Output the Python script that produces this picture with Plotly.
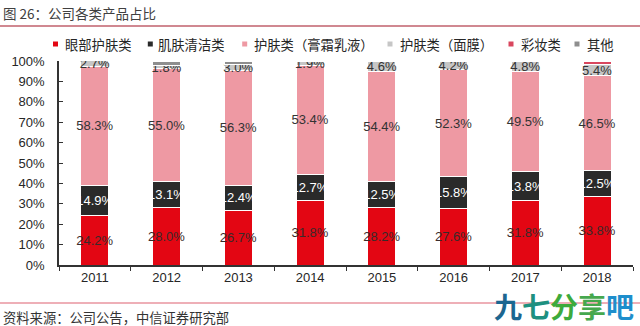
import plotly.graph_objects as go

# Product mix by year (% of revenue)
years = ["2011", "2012", "2013", "2014", "2015", "2016", "2017", "2018"]
eye_care = [24.2, 28.0, 26.7, 31.8, 28.2, 27.6, 31.8, 33.8]
cleansing = [14.9, 13.1, 12.4, 12.7, 12.5, 15.8, 13.8, 12.5]
cream_lotion = [58.3, 55.0, 56.3, 53.4, 54.4, 52.3, 49.5, 46.5]
facial_mask = [2.7, 1.8, 3.0, 1.9, 4.6, 4.2, 4.8, 5.4]
makeup = [0.0, 0.0, 0.0, 0.0, 0.0, 0.0, 0.0, 1.8]
others = [0.0, 2.1, 1.6, 0.2, 0.3, 0.1, 0.1, 0.0]

series_names = ["眼部护肤类", "肌肤清洁类", "护肤类（膏霜乳液）", "护肤类（面膜）", "彩妆类", "其他"]
series_values = [eye_care, cleansing, cream_lotion, facial_mask, makeup, others]
series_colors = ["#E30613", "#2A2A2A", "#EE99A3", "#C6C6C6", "#D9475E", "#8E8E8E"]
label_colors = ["#3A2A2A", "#FFFFFF", "#333333", "#333333", None, None]

W_PX, H_PX = 640, 326
M_L, M_R, M_T, M_B = 59, 7, 61, 61
PLOT_W = W_PX - M_L - M_R
PLOT_H = H_PX - M_T - M_B
BASE_FONT = "Liberation Sans, Arial, Noto Sans CJK SC, sans-serif"
CJK_FONT = "Noto Sans CJK SC, Liberation Sans, sans-serif"


def px_x(px):
    return (px - M_L) / PLOT_W


def px_y(py):
    return (H_PX - M_B - py) / PLOT_H


fig = go.Figure()
for name, vals, color, lcolor in zip(series_names, series_values, series_colors, label_colors):
    texts = [f"{v:.1f}%" for v in vals] if lcolor else None
    fig.add_trace(go.Bar(
        x=years, y=vals, name=name,
        marker=dict(color=color, line=dict(color="#FFFFFF", width=1)),
        text=texts,
        textposition="inside" if lcolor else "none",
        insidetextanchor="middle",
        textangle=0,
        textfont=dict(color=lcolor or "#333333", size=13, family=BASE_FONT),
        showlegend=False,
        hoverinfo="skip",
    ))

# Legend row: small squares with labels
legend_items = [
    (55.5, 63, 0), (150.3, 155.5, 1), (244.7, 251.5, 2),
    (390, 398, 3), (511, 519, 4), (577, 585, 5),
]
shapes = []
annotations = []
LEG_Y = 44
for mx, tx, idx in legend_items:
    shapes.append(dict(
        type="rect", xref="paper", yref="paper",
        x0=px_x(mx - 2.5), x1=px_x(mx + 2.5), y0=px_y(LEG_Y + 2.5), y1=px_y(LEG_Y - 2.5),
        fillcolor=series_colors[idx], line=dict(width=0),
    ))
    annotations.append(dict(
        text=series_names[idx], xref="paper", yref="paper",
        x=px_x(tx), y=px_y(LEG_Y), xanchor="left", yanchor="middle",
        showarrow=False, font=dict(size=13.3, color="#262626", family=CJK_FONT),
    ))

# Title, rules and source note
annotations.append(dict(
    text="图 26：公司各类产品占比", xref="paper", yref="paper",
    x=px_x(1), y=px_y(13.5), xanchor="left", yanchor="middle",
    showarrow=False, font=dict(size=13.5, color="#404040", family=CJK_FONT),
))
shapes.append(dict(type="line", xref="paper", yref="paper",
                   x0=px_x(0), x1=px_x(640), y0=px_y(26), y1=px_y(26),
                   line=dict(color="#C0606C", width=1.5)))
shapes.append(dict(type="line", xref="paper", yref="paper",
                   x0=px_x(0), x1=px_x(640), y0=px_y(303), y1=px_y(303),
                   line=dict(color="#DD6070", width=1.2)))
annotations.append(dict(
    text="资料来源：公司公告，中信证券研究部", xref="paper", yref="paper",
    x=px_x(1), y=px_y(317), xanchor="left", yanchor="middle",
    showarrow=False, font=dict(size=13.3, color="#333333", family=CJK_FONT),
))
annotations.append(dict(
    text=("<b><span style='color:#1C6690'>九</span>"
          "<span style='color:#1E9080'>七</span>"
          "<span style='color:#3DAA3C'>分</span>"
          "<span style='color:#46A84E'>享</span>"
          "<span style='color:#1E8ECC'>吧</span></b>"),
    xref="paper", yref="paper",
    x=px_x(636), y=px_y(305.5), xanchor="right", yanchor="middle",
    showarrow=False, font=dict(size=28, family=CJK_FONT),
))

fig.update_layout(
    width=W_PX, height=H_PX,
    margin=dict(l=M_L, r=M_R, t=M_T, b=M_B, pad=0),
    barmode="stack",
    bargap=0.61,
    paper_bgcolor="#FFFFFF",
    plot_bgcolor="#FFFFFF",
    font=dict(family=BASE_FONT, color="#262626", size=13),
    uniformtext=dict(minsize=13, mode="show"),
    shapes=shapes,
    annotations=annotations,
    xaxis=dict(
        type="category", showline=True, linecolor="#333333", linewidth=1.5,
        ticks="outside", tickson="boundaries", ticklen=4, tickcolor="#333333",
        tickfont=dict(size=13, color="#262626", family=BASE_FONT),
        showgrid=False, zeroline=False,
    ),
    yaxis=dict(
        range=[0, 100], dtick=10, ticksuffix="%",
        showline=True, linecolor="#333333", linewidth=1.5,
        ticks="inside", ticklen=4, tickcolor="#333333",
        tickfont=dict(size=13, color="#262626", family=BASE_FONT),
        ticklabelstandoff=10,
        showgrid=False, zeroline=False,
    ),
)

fig.write_html("out.html")
